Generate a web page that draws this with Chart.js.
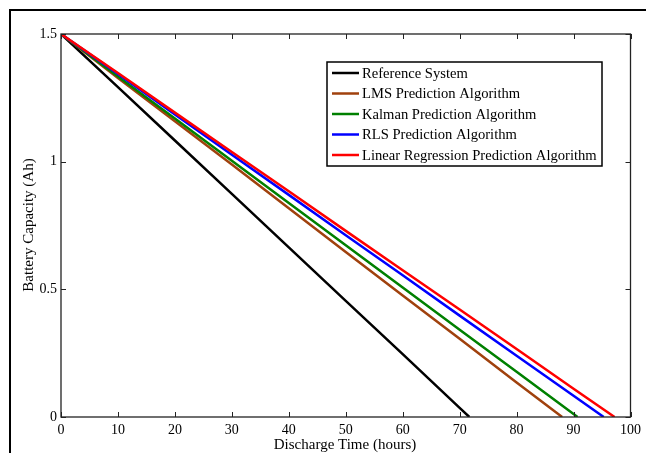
<!DOCTYPE html>
<html>
<head>
<meta charset="utf-8">
<script src="https://cdn.jsdelivr.net/npm/chart.js@4.4.0/dist/chart.umd.min.js"></script>
<style>
  html, body { margin: 0; padding: 0; background: #fff; }
  canvas { display: block; }
</style>
</head>
<body>
<canvas id="grafico" width="646" height="453"></canvas>
<script>
// Datos (horas, Ah)
const seriesNames = [
  'Reference System',
  'LMS Prediction Algorithm',
  'Kalman Prediction Algorithm',
  'RLS Prediction Algorithm',
  'Linear Regression Prediction Algorithm'
];
const seriesColors = ['#000000', '#a0410d', '#008000', '#0000ff', '#ff0000'];

const refTime = [0, 10, 20, 30, 40, 50, 60, 70, 71.7];
const refCap  = [1.5, 1.292, 1.083, 0.874, 0.664, 0.455, 0.246, 0.036, 0];

const lmsTime = [0, 10, 20, 30, 40, 50, 60, 70, 80, 88];
const lmsCap  = [1.5, 1.328, 1.158, 0.989, 0.818, 0.646, 0.476, 0.306, 0.135, 0];

const kalTime = [0, 10, 20, 30, 40, 50, 60, 70, 80, 90, 90.7];
const kalCap  = [1.5, 1.334, 1.169, 1.004, 0.838, 0.673, 0.507, 0.342, 0.177, 0.012, 0];

const rlsTime = [0, 10, 20, 30, 40, 50, 60, 70, 80, 90, 95.3];
const rlsCap  = [1.5, 1.343, 1.185, 1.027, 0.870, 0.712, 0.555, 0.397, 0.240, 0.083, 0];

const lrTime = [0, 10, 20, 30, 40, 50, 60, 70, 80, 90, 97.2];
const lrCap  = [1.5, 1.347, 1.192, 1.038, 0.884, 0.729, 0.575, 0.421, 0.266, 0.111, 0];

const xTicks = [0, 10, 20, 30, 40, 50, 60, 70, 80, 90, 100];
const yTicks = [0, 0.5, 1, 1.5];

const FUENTE = "'Liberation Serif', 'Times New Roman', serif";

function toPoints(xs, ys) {
  return xs.map((x, i) => ({ x: x, y: ys[i] }));
}

const allSeries = [
  toPoints(refTime, refCap),
  toPoints(lmsTime, lmsCap),
  toPoints(kalTime, kalCap),
  toPoints(rlsTime, rlsCap),
  toPoints(lrTime, lrCap)
];

// Marco, ticks hacia dentro, leyenda y títulos de ejes
const decoracion = {
  id: 'decoracion',
  afterDraw(chart) {
    const ctx = chart.ctx;
    const a = chart.chartArea;
    const xs = chart.scales.x;
    const ys = chart.scales.y;
    ctx.save();

    // marco exterior de la figura
    ctx.fillStyle = '#000';
    ctx.fillRect(9, 9, 646 - 9, 2);
    ctx.fillRect(9, 9, 2, 453 - 9);

    // caja del área de trazado
    ctx.strokeStyle = '#222';
    ctx.lineWidth = 1.3;
    ctx.strokeRect(a.left, a.top, a.right - a.left, a.bottom - a.top);

    // ticks hacia dentro en los cuatro lados
    ctx.lineWidth = 1;
    ctx.beginPath();
    xTicks.forEach(v => {
      const px = Math.round(xs.getPixelForValue(v)) + 0.5;
      ctx.moveTo(px, a.bottom); ctx.lineTo(px, a.bottom - 5);
      ctx.moveTo(px, a.top); ctx.lineTo(px, a.top + 5);
    });
    yTicks.forEach(v => {
      const py = Math.round(ys.getPixelForValue(v)) + 0.5;
      ctx.moveTo(a.left, py); ctx.lineTo(a.left + 5, py);
      ctx.moveTo(a.right, py); ctx.lineTo(a.right - 5, py);
    });
    ctx.stroke();

    // títulos de ejes
    ctx.fillStyle = '#000';
    ctx.font = '15px ' + FUENTE;
    ctx.textAlign = 'center';
    ctx.textBaseline = 'middle';
    ctx.fillText('Discharge Time (hours)', 345, 445);
    ctx.save();
    ctx.translate(29, 225);
    ctx.rotate(-Math.PI / 2);
    ctx.fillText('Battery Capacity (Ah)', 0, 0);
    ctx.restore();

    // leyenda
    const lx = 327, ly = 62, lw = 275, lh = 104;
    ctx.fillStyle = '#fff';
    ctx.fillRect(lx, ly, lw, lh);
    ctx.strokeStyle = '#000';
    ctx.lineWidth = 1.5;
    ctx.strokeRect(lx, ly, lw, lh);
    ctx.font = '14.6px ' + FUENTE;
    ctx.textAlign = 'left';
    chart.data.datasets.forEach((ds, i) => {
      const y = 73 + i * 20.5;
      ctx.strokeStyle = ds.borderColor;
      ctx.lineWidth = 2.5;
      ctx.beginPath();
      ctx.moveTo(332, y); ctx.lineTo(359, y);
      ctx.stroke();
      ctx.fillStyle = '#000';
      ctx.fillText(ds.label, 362, y + 1);
    });
    ctx.restore();
  }
};

new Chart(document.getElementById('grafico'), {
  type: 'scatter',
  data: {
    datasets: allSeries.map((pts, i) => ({
      label: seriesNames[i],
      data: pts,
      showLine: true,
      borderColor: seriesColors[i],
      backgroundColor: seriesColors[i],
      borderWidth: 2.5,
      pointRadius: 0,
      tension: 0,
      order: 5 - i
    }))
  },
  options: {
    responsive: false,
    animation: false,
    layout: { padding: { left: 0, top: 34, right: 15, bottom: 0 } },
    plugins: {
      legend: { display: false },
      tooltip: { enabled: false }
    },
    scales: {
      x: {
        type: 'linear',
        min: 0, max: 100,
        afterFit: s => { s.height = 36; },
        afterBuildTicks: s => { s.ticks = xTicks.map(v => ({ value: v })); },
        grid: { display: false, drawTicks: false },
        border: { display: false },
        ticks: { color: '#000', padding: 5, font: { family: FUENTE, size: 14 } }
      },
      y: {
        type: 'linear',
        min: 0, max: 1.5,
        afterFit: s => { s.width = 61; },
        afterBuildTicks: s => { s.ticks = yTicks.map(v => ({ value: v })); },
        grid: { display: false, drawTicks: false },
        border: { display: false },
        ticks: { color: '#000', padding: 4, font: { family: FUENTE, size: 14 }, callback: v => String(v) }
      }
    }
  },
  plugins: [decoracion]
});
</script>
</body>
</html>
